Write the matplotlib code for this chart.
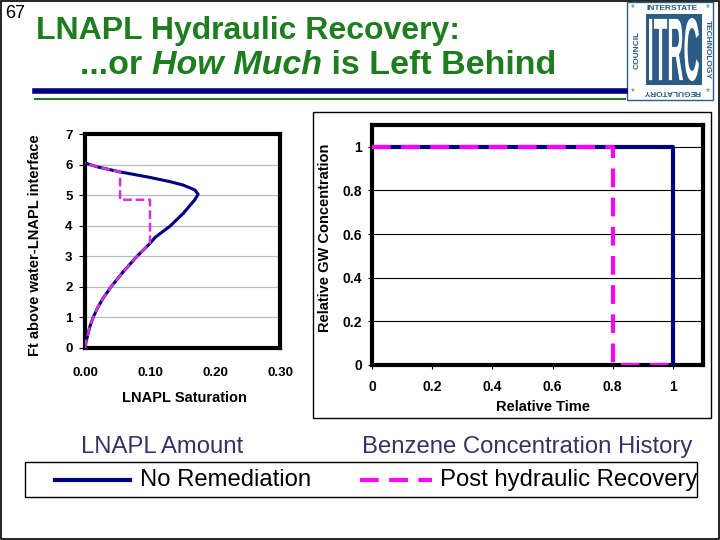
import matplotlib
matplotlib.use("Agg")
import matplotlib.pyplot as plt
from matplotlib.patches import Rectangle, PathPatch
from matplotlib.textpath import TextPath
from matplotlib.font_manager import FontProperties
from matplotlib.transforms import Affine2D
from matplotlib.lines import Line2D

plt.rcParams['font.family'] = ['Liberation Sans', 'DejaVu Sans']

# left chart: LNAPL saturation profile (x = saturation, y = ft above interface)
sat_none = [0, 0.0015, 0.004, 0.0075, 0.0125, 0.019, 0.027, 0.040, 0.059, 0.080,
            0.100, 0.108, 0.131, 0.151, 0.169, 0.174, 0.169, 0.151, 0.131,
            0.100, 0.054, 0.020, 0]
ft_none = [0, 0.2, 0.4, 0.7, 1.0, 1.3, 1.6, 2.0, 2.5, 3.0,
           3.42, 3.62, 3.99, 4.4, 4.85, 5.03, 5.17, 5.33, 5.44,
           5.58, 5.76, 5.92, 6.05]
sat_post = [0, 0.0015, 0.004, 0.0075, 0.0125, 0.019, 0.027, 0.040, 0.059, 0.080,
            0.100, 0.100, 0.054, 0.054, 0.020, 0]
ft_post = [0, 0.2, 0.4, 0.7, 1.0, 1.3, 1.6, 2.0, 2.5, 3.0,
           3.42, 4.85, 4.85, 5.76, 5.92, 6.05]
sat_ticks = [0.0, 0.1, 0.2, 0.3]
sat_labels = ['0.00', '0.10', '0.20', '0.30']

# right chart: benzene concentration history
time_none = [0, 1, 1]
conc_none = [1, 1, 0]
time_post = [0, 0.8, 0.8, 1]
conc_post = [1, 1, 0, 0]
rel_ticks = [0, 0.2, 0.4, 0.6, 0.8, 1]
rel_labels = ['0', '0.2', '0.4', '0.6', '0.8', '1']

NAVY = '#000080'
MAG = '#FF00FF'
GREEN = '#1E7D1E'

W, H = 720, 540
fig = plt.figure(figsize=(7.2, 5.4), dpi=100)


def fx(px):
    return px / W


def fy(py):
    return 1 - py / H


# slide border
fig.add_artist(Rectangle((0.002, 0.002), 0.996, 0.996, transform=fig.transFigure,
                         fill=False, ec='black', lw=1.2))
fig.text(fx(5), fy(14), '67', fontsize=13, va='center', ha='left')

# title
fig.text(fx(36), fy(39), 'LNAPL Hydraulic Recovery:', fontsize=23,
         fontweight='bold', color=GREEN, va='baseline', ha='left')
renderer = fig.canvas.get_renderer()
xpos = fx(80)
for piece, style in [('...or ', 'normal'), ('How Much', 'italic'),
                     (' is Left Behind', 'normal')]:
    t = fig.text(xpos, fy(74), piece, fontsize=24.5, fontweight='bold',
                 fontstyle=style, color=GREEN, va='baseline', ha='left')
    bb = t.get_window_extent(renderer)
    xpos += bb.width / W

# rule lines under the title
fig.add_artist(Line2D([fx(35), fx(625)], [fy(91), fy(91)], color=NAVY, lw=4))
fig.add_artist(Line2D([fx(35), fx(625)], [fy(99), fy(99)], color=GREEN, lw=1.5))

# logo
fig.add_artist(Rectangle((fx(627), fy(100)), fx(86), 98 / H, transform=fig.transFigure,
                         fc='white', ec='#2E5C8A', lw=1))
fig.add_artist(Rectangle((fx(646), fy(85)), fx(56), 71 / H, transform=fig.transFigure,
                         fc='#2B5C86', ec='none'))
tp = TextPath((0, 0), 'ITRC', size=10, prop=FontProperties(family='Liberation Sans', weight='bold'))
ext = tp.get_extents()
sx = 50 / ext.width
sy = 63 / ext.height
tr = Affine2D().translate(-ext.x0, -ext.y0).scale(sx, sy).translate(649, H - 81) + \
    Affine2D().scale(1 / W, 1 / H) + fig.transFigure
fig.add_artist(PathPatch(tp, transform=tr, fc='white', ec='none'))
fig.text(fx(672), fy(8), 'INTERSTATE', fontsize=6, fontweight='bold', color='#2B5C86',
         ha='center', va='center')
fig.text(fx(672), fy(92), 'REGULATORY', fontsize=6, fontweight='bold', color='#2B5C86',
         ha='center', va='center', rotation=180)
fig.text(fx(637), fy(50), 'COUNCIL', fontsize=6, fontweight='bold', color='#2B5C86',
         ha='center', va='center', rotation=90)
fig.text(fx(707), fy(50), 'TECHNOLOGY', fontsize=6, fontweight='bold', color='#2B5C86',
         ha='center', va='center', rotation=-90)
for (ax_, ay_) in [(633, 8), (708, 8), (633, 92), (708, 92)]:
    fig.text(fx(ax_), fy(ay_), '*', fontsize=7, color='#3A9A3A', ha='center', va='center')

# ---- left chart ----
ax1 = fig.add_axes([fx(85), fy(348), fx(195), 214 / H])
ax1.plot(sat_none, ft_none, color=NAVY, lw=2.2, zorder=3)
ax1.plot(sat_post, ft_post, color='#D633D6', lw=1.8, dashes=(3.5, 1.5), zorder=4)
ax1.set_xlim(0, 0.3)
ax1.set_ylim(0, 7)
ax1.set_xticks(sat_ticks)
ax1.set_xticklabels(sat_labels)
ax1.set_yticks(range(8))
ax1.yaxis.grid(True, color='#BBBBBB', lw=0.9)
ax1.set_axisbelow(True)
for s in ax1.spines.values():
    s.set_linewidth(3)
ax1.tick_params(axis='x', length=0, pad=14, labelsize=9.5)
ax1.tick_params(axis='y', length=4, width=0.8, pad=5, labelsize=9.5)
for lab in ax1.get_xticklabels() + ax1.get_yticklabels():
    lab.set_fontweight('bold')
fig.text(fx(35), fy(245), 'Ft above water-LNAPL interface', rotation=90, fontsize=10.5,
         fontweight='bold', ha='center', va='center')
fig.text(fx(184), fy(398), 'LNAPL Saturation', fontsize=10.5, fontweight='bold',
         ha='center', va='center')

# ---- right chart ----
fig.add_artist(Rectangle((fx(313), fy(418)), fx(398), 306 / H, transform=fig.transFigure,
                         fill=False, ec='black', lw=1))
ax2 = fig.add_axes([fx(372), fy(365), fx(331), 240 / H])
ax2.plot(time_none, conc_none, color=NAVY, lw=3, zorder=3)
ax2.plot(time_post, conc_post, color=MAG, lw=3, dashes=(4.5, 2.5), zorder=4)
ax2.set_xlim(0, 1.1)
ax2.set_ylim(0, 1.1)
ax2.set_xticks(rel_ticks)
ax2.set_xticklabels(rel_labels)
ax2.set_yticks(rel_ticks)
ax2.set_yticklabels(rel_labels)
ax2.yaxis.grid(True, color='black', lw=0.8)
ax2.set_axisbelow(True)
for s in ax2.spines.values():
    s.set_linewidth(3)
ax2.tick_params(axis='x', length=3, width=0.8, pad=8, labelsize=10)
ax2.tick_params(axis='y', length=3, width=0.8, pad=4, labelsize=10)
for lab in ax2.get_xticklabels() + ax2.get_yticklabels():
    lab.set_fontweight('bold')
fig.text(fx(325), fy(238), 'Relative GW Concentration', rotation=90, fontsize=10.5,
         fontweight='bold', ha='center', va='center')
fig.text(fx(543), fy(407), 'Relative Time', fontsize=10.5, fontweight='bold',
         ha='center', va='center')

# ---- bottom legend ----
fig.text(fx(162), fy(447), 'LNAPL Amount', fontsize=17.2, color='#333366',
         ha='center', va='center')
fig.text(fx(527), fy(447), 'Benzene Concentration History', fontsize=17.2, color='#333366',
         ha='center', va='center')
fig.add_artist(Rectangle((fx(25), fy(497)), fx(672), 35 / H, transform=fig.transFigure,
                         fill=False, ec='black', lw=1))
fig.add_artist(Line2D([fx(55), fx(130)], [fy(480), fy(480)], color=NAVY, lw=3))
fig.text(fx(140), fy(480), 'No Remediation', fontsize=17.2, ha='left', va='center')
fig.add_artist(Line2D([fx(360), fx(432)], [fy(480), fy(480)], color=MAG, lw=3,
                      dashes=(4.5, 2.5)))
fig.text(fx(440), fy(480), 'Post hydraulic Recovery', fontsize=17.2, ha='left', va='center')

fig.savefig('out.png', dpi=100)
